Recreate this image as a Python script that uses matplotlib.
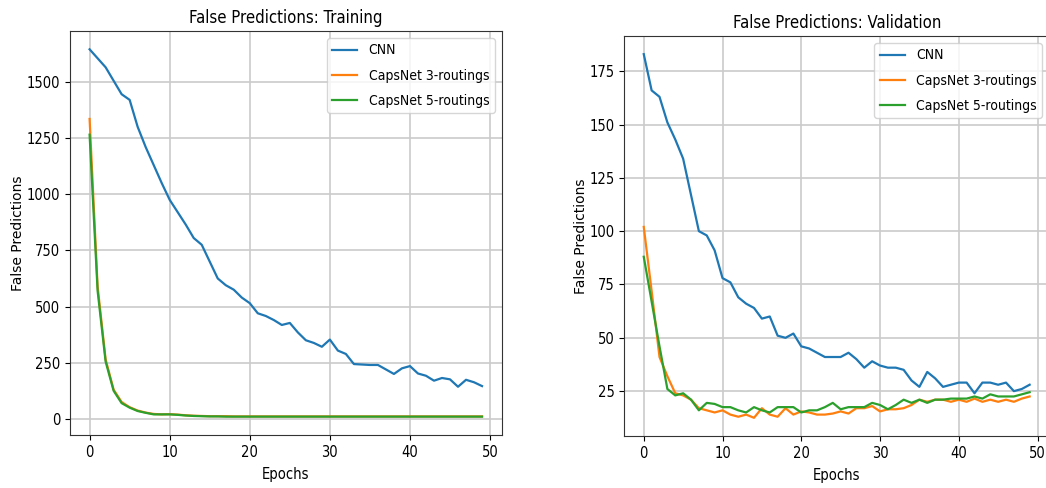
import numpy as np
import matplotlib
matplotlib.use('Agg')
from matplotlib import pyplot as plt

plt.rcParams['font.family'] = 'DejaVu Sans'
plt.rcParams['font.stretch'] = 'condensed'

epochs = list(range(50))

# training false predictions
train_cnn = [1645, 1605, 1565, 1505, 1445, 1420, 1300, 1210, 1130, 1050,
             975, 920, 865, 805, 775, 700, 625, 595, 575, 540,
             515, 470, 458, 440, 418, 427, 385, 350, 338, 321,
             353, 304, 289, 244, 242, 240, 240, 220, 200, 225,
             235, 202, 192, 170, 182, 176, 143, 174, 163, 146]
train_caps3 = [1335, 590, 265, 130, 75, 52, 37, 28, 22, 20,
               21, 19, 16, 14, 13, 12, 12, 12, 11, 11,
               11, 11, 11, 11, 11, 11, 11, 11, 11, 11,
               11, 11, 11, 11, 11, 11, 11, 11, 11, 11,
               11, 11, 11, 11, 11, 11, 11, 11, 11, 11]
train_caps5 = [1265, 570, 255, 125, 70, 50, 35, 27, 20, 20,
               20, 18, 15, 13, 12, 11, 11, 10, 10, 10,
               10, 10, 10, 10, 10, 10, 10, 10, 10, 10,
               10, 10, 10, 10, 10, 10, 10, 10, 10, 10,
               10, 10, 10, 10, 10, 10, 10, 10, 10, 10]

# validation false predictions
val_cnn = [183, 166, 163, 151, 143, 134, 117, 100, 98, 91,
           78, 76, 69, 66, 64, 59, 60, 51, 50, 52,
           46, 45, 43, 41, 41, 41, 43, 40, 36, 39,
           37, 36, 36, 35, 30, 27, 34, 31, 27, 28,
           29, 29, 24, 29, 29, 28, 29, 25, 26, 28]
val_caps3 = [102, 72, 41, 32, 24, 23, 21, 17, 16, 15,
             16, 14, 13, 14, 12.5, 17, 14, 13, 17, 14,
             15.5, 15, 14, 14, 14.5, 15.5, 14.5, 17, 17, 18,
             15.5, 16.5, 16.5, 17, 18.5, 21, 20, 21, 21, 20,
             21, 20, 21.5, 20, 21, 20, 21, 20, 21.5, 22.5]
val_caps5 = [88, 67, 46, 26, 23, 24, 21, 16, 19.5, 19,
             17.5, 17.5, 16, 15, 17.5, 16, 15, 17.5, 17.5, 17.5,
             15, 16, 16, 17.5, 19.5, 16.5, 17.5, 17.5, 17.5, 19.5,
             18.5, 16.5, 18.5, 21, 19.5, 21, 19.5, 21, 21, 21.5,
             21.5, 21.5, 22.5, 21.5, 23.5, 22.5, 22.5, 22.5, 23.5, 24.5]

labels = ['CNN', 'CapsNet 3-routings', 'CapsNet 5-routings']

fig = plt.figure(figsize=(10.46, 4.88), dpi=100)
ax1 = fig.add_axes([0.0669, 0.1086, 0.4127, 0.828])
ax2 = fig.add_axes([0.597, 0.1066, 0.4058, 0.8197])

for ax, series, title in [(ax1, (train_cnn, train_caps3, train_caps5), 'False Predictions: Training'),
                          (ax2, (val_cnn, val_caps3, val_caps5), 'False Predictions: Validation')]:
    for s, lab in zip(series, labels):
        ax.plot(epochs, s, label=lab, linewidth=1.6)
    ax.set_title(title, fontsize=12)
    ax.set_xlabel('Epochs', fontsize=10.5, labelpad=5)
    # vertical label: the reference is only squeezed sideways, so keep normal width
    ax.set_ylabel('False Predictions', fontsize=10, fontstretch='normal', labelpad=1)
    ax.grid(True, color='#cbcbcb', linewidth=1.2)
    ax.legend(loc='upper right', fontsize=10, labelspacing=0.8, handlelength=1.8)
    ax.tick_params(labelsize=10.5)
    for sp in ax.spines.values():
        sp.set_color('#333333')

ax1.set_yticks([0, 250, 500, 750, 1000, 1250, 1500])
ax2.set_yticks([25, 50, 75, 100, 125, 150, 175])

fig.savefig('out.png', dpi=100)
